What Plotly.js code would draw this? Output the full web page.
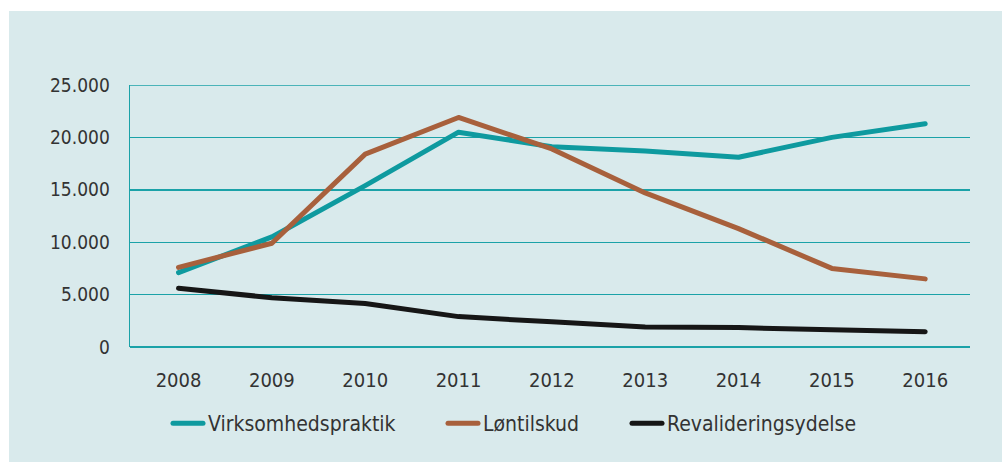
<!DOCTYPE html>
<html>
<head>
<meta charset="utf-8">
<script src="https://cdn.plot.ly/plotly-3.0.1.min.js"></script>
<style>
  html, body { margin: 0; padding: 0; background: #ffffff; }
  #wrap { position: relative; width: 1002px; height: 462px; overflow: hidden; }
  #panel { position: absolute; left: 9px; top: 11px; right: 0; bottom: 0; background: #d9eaec; }
  #chart { position: absolute; left: 0; top: 0; width: 1002px; height: 462px; }
  .scatterlayer .js-line { stroke-linecap: round !important; stroke-linejoin: round !important; }
  .legendlines path { stroke-linecap: round !important; }
</style>
</head>
<body>
<div id="wrap"><div id="panel"></div><div id="chart"></div></div>
<script>
const years = ['2008','2009','2010','2011','2012','2013','2014','2015','2016'];
const virksomhedspraktik = [7100, 10500, 15400, 20500, 19100, 18700, 18100, 20000, 21300];
const loentilskud = [7600, 9900, 18400, 21900, 18900, 14700, 11300, 7500, 6500];
const revalideringsydelse = [5600, 4700, 4150, 2900, 2400, 1900, 1850, 1650, 1450];
const seriesNames = ['Virksomhedspraktik', 'Løntilskud', 'Revalideringsydelse'];
const yTicks = [0, 5000, 10000, 15000, 20000, 25000];

const FONT = '"DejaVu Sans Condensed", "DejaVu Sans", sans-serif';
const TEXT = '#333333';
const GRID = '#1ba2a8';

const traces = [
  { x: years, y: virksomhedspraktik, name: seriesNames[0], type: 'scatter', mode: 'lines',
    line: { color: '#0e9a9f', width: 5 }, legend: 'legend' },
  { x: years, y: loentilskud, name: seriesNames[1], type: 'scatter', mode: 'lines',
    line: { color: '#a8603c', width: 5 }, legend: 'legend2' },
  { x: years, y: revalideringsydelse, name: seriesNames[2], type: 'scatter', mode: 'lines',
    line: { color: '#161616', width: 5 }, legend: 'legend3' }
];

const legendBase = {
  orientation: 'h', xref: 'paper', yref: 'paper', xanchor: 'left', yanchor: 'middle',
  y: -0.292, bgcolor: 'rgba(0,0,0,0)', borderwidth: 0,
  font: { family: FONT, size: 21, color: TEXT }
};

const layout = {
  width: 1002, height: 462,
  margin: { l: 130, r: 32, t: 85, b: 115 },
  paper_bgcolor: 'rgba(0,0,0,0)',
  plot_bgcolor: 'rgba(0,0,0,0)',
  separators: ',.',
  font: { family: FONT, size: 19, color: TEXT },
  showlegend: true,
  xaxis: {
    type: 'category', range: [-0.52, 8.48],
    showgrid: false, zeroline: false, showline: false, ticks: '',
    tickfont: { family: FONT, size: 20, color: TEXT },
    ticklabelstandoff: 19
  },
  yaxis: {
    range: [0, 25000], tickvals: yTicks, tickformat: ',d',
    showgrid: true, gridcolor: GRID, gridwidth: 1.4,
    zeroline: true, zerolinecolor: GRID, zerolinewidth: 1.4,
    showline: true, linecolor: GRID, linewidth: 1.4,
    ticks: '', ticklabelstandoff: 15,
    tickfont: { family: FONT, size: 19, color: TEXT }
  },
  shapes: [
    { type: 'line', xref: 'paper', yref: 'y', x0: 0, x1: 1,
      y0: yTicks[yTicks.length - 1], y1: yTicks[yTicks.length - 1],
      line: { color: GRID, width: 1.4 }, layer: 'below' }
  ],
  legend: Object.assign({}, legendBase, { x: (168 - 130) / 840 }),
  legend2: Object.assign({}, legendBase, { x: (443 - 130) / 840 }),
  legend3: Object.assign({}, legendBase, { x: (627 - 130) / 840 })
};

Plotly.newPlot('chart', traces, layout, { displayModeBar: false, staticPlot: true });
</script>
</body>
</html>
